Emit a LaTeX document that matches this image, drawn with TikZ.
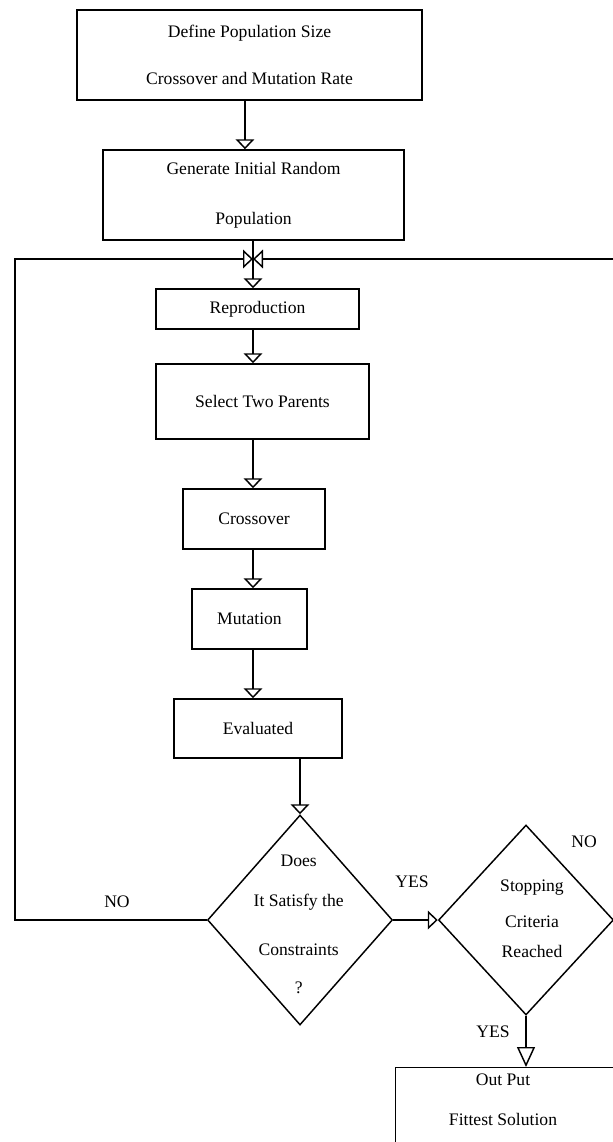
\documentclass[tikz,border=0pt]{standalone}
\usepackage{fontspec}
\setmainfont{Liberation Serif}
\usetikzlibrary{arrows.meta,shapes.geometric}

\tikzset{every picture/.style={line width=1.1pt}}
\tikzset{
  stepbox/.style={draw, rectangle, inner sep=0pt, align=center},
  decide/.style={draw, diamond, inner sep=0pt},
  flow/.style={-{Triangle[open,length=7.5pt,width=14pt]}},
}

\begin{document}
\begin{tikzpicture}[x=0.75pt,y=0.75pt,yscale=-1,xscale=1,
  every node/.style={font=\fontsize{13.2pt}{15.5pt}\selectfont}]
	\useasboundingbox (0,0) rectangle (613,1142);
	\clip (0,0) rectangle (613,1142);

	%Shape: Rectangles [main column]
	\node[stepbox, minimum width=258.75pt, minimum height=67.5pt] (init) at (249.5,55) {Define Population Size\\[19.75pt]Crossover and Mutation Rate};
	\node[stepbox, minimum width=225.75pt, minimum height=67.5pt] (gen) at (253.5,195) {Generate Initial Random\\[22pt]Population};
	\coordinate (merge) at (253,259);
	\node[stepbox, minimum width=152.25pt, minimum height=30pt] (repro) at (257.5,309) {Reproduction};
	\node[stepbox, minimum width=159.75pt, minimum height=56.25pt] (parents) at (262.5,401.5) {Select Two Parents};
	\node[stepbox, minimum width=106.5pt, minimum height=45pt] (cross) at (254,519) {Crossover};
	\node[stepbox, minimum width=86.25pt, minimum height=45pt] (mut) at (249.5,619) {Mutation};
	\node[stepbox, minimum width=126pt, minimum height=44.25pt] (eval) at (258,728.5) {Evaluated};

	%Shape: Diamonds
	\node[decide, minimum width=138.75pt, minimum height=157.5pt,
	  label={[align=center, xshift=-1pt, yshift=-3.4pt]center:Does\\[14.5pt]It Satisfy the\\[21pt]Constraints\\[13pt]?}] (sat) at (300,920) {};
	\node[decide, minimum width=131.25pt, minimum height=142.5pt,
	  label={[align=center, xshift=4.5pt, yshift=1pt]center:Stopping\\[11.5pt]Criteria\\[7pt]Reached}] (stop) at (526,920) {};

	%Shape: Output box (runs past the page)
	\node[draw, rectangle, anchor=north west, minimum width=240pt, minimum height=120pt] (outbox) at (395,1067) {};
	\node[align=center] (outtext) at (503,1100) {Out Put\\[14.5pt]Fittest Solution};

	% Text Node
	\node (nol) at (117,902) {NO};
	\node (yesr) at (412,882) {YES};
	\node (nor) at (584,842) {NO};
	\node (yesb) at (493,1032) {YES};

	%Straight Lines
	\coordinate (lturn) at (15,259);
	\coordinate (rturn) at (640,259);
	\draw[flow] ([xshift=-3.4pt]init.south) -- ([xshift=-3.4pt]init.south |- gen.north);
	\draw (gen.south -| merge) -- (merge);
	\draw[flow] (sat.west) -| (lturn) -- (merge);
	\draw[flow] (stop.east) -| (rturn) -- (merge);
	\draw[flow] (merge) -- (repro.north -| merge);
	\foreach \a/\b in {repro/parents, parents/cross, cross/mut, mut/eval}
	  \draw[flow] (\a.south -| merge) -- (\b.north -| merge);
	\draw[flow] (eval.south -| sat.north) -- (sat.north);
	\draw[flow] (sat.east) -- (stop.west);
	\draw[-{Triangle[open,length=15pt,width=13.5pt]}] (stop.south) -- (stop.south |- outbox.north);

\end{tikzpicture}
\end{document}
